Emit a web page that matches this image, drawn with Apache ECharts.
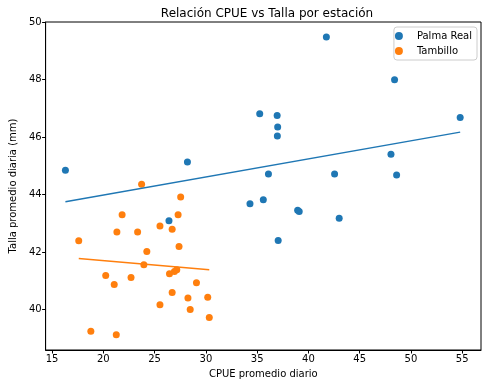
<!DOCTYPE html>
<html>
<head>
<meta charset="utf-8">
<script src="https://cdn.jsdelivr.net/npm/echarts@6/dist/echarts.min.js"></script>
<style>
html,body{margin:0;padding:0;background:#fff;}
#chart{width:488px;height:388px;}
</style>
</head>
<body>
<div id="chart"></div>
<script>
// Palma Real
const palmaX = [16.3, 28.2, 35.25, 41.75, 48.4, 36.95, 37.0, 36.97, 54.8, 48.05, 36.1, 42.55, 48.6, 35.6, 34.3, 38.95, 39.1, 43.0, 37.05, 26.4];
const palmaY = [44.85, 45.13, 46.81, 49.48, 47.99, 46.75, 46.35, 46.04, 46.68, 45.4, 44.72, 44.72, 44.68, 43.82, 43.68, 43.46, 43.41, 43.18, 42.41, 43.09];
// Tambillo
const tambX = [23.73, 27.54, 21.83, 27.29, 21.32, 23.34, 25.52, 26.71, 17.6, 27.38, 24.24, 23.95, 26.45, 26.93, 27.16, 20.23, 22.7, 21.06, 29.08, 26.71, 28.25, 30.18, 25.52, 28.47, 30.33, 18.78, 21.26];
const tambY = [44.36, 43.92, 43.3, 43.3, 42.7, 42.7, 42.91, 42.8, 42.4, 42.2, 42.02, 41.56, 41.25, 41.33, 41.39, 41.19, 41.12, 40.88, 40.94, 40.6, 40.41, 40.43, 40.17, 40.01, 39.73, 39.25, 39.13];

const seriesNames = ['Palma Real', 'Tambillo'];
const colors = ['#1f77b4', '#ff7f0e'];

function pairs(xs, ys) { return xs.map((x, i) => [x, ys[i]]); }
function fitLine(xs, ys) {
  const n = xs.length;
  const mx = xs.reduce((a, b) => a + b, 0) / n;
  const my = ys.reduce((a, b) => a + b, 0) / n;
  let sxy = 0, sxx = 0;
  for (let i = 0; i < n; i++) { sxy += (xs[i] - mx) * (ys[i] - my); sxx += (xs[i] - mx) ** 2; }
  const b = sxy / sxx, a = my - b * mx;
  const x0 = Math.min(...xs), x1 = Math.max(...xs);
  return [[x0, a + b * x0], [x1, a + b * x1]];
}

const font = 'DejaVu Sans';
const chart = echarts.init(document.getElementById('chart'), null, {renderer: 'canvas'});
chart.setOption({
  animation: false,
  title: {
    text: 'Relación CPUE vs Talla por estación',
    left: 262, top: 3, textAlign: 'center',
    textStyle: {fontFamily: font, fontSize: 12, fontWeight: 'normal', color: '#000'}
  },
  legend: {
    data: seriesNames,
    orient: 'vertical',
    right: 11, top: 27,
    icon: 'circle',
    itemWidth: 26, itemHeight: 8, itemGap: 5,
    padding: [4, 5, 4, 1],
    borderColor: '#cccccc', borderWidth: 1, borderRadius: 3,
    textStyle: {fontFamily: font, fontSize: 10, color: '#000'}
  },
  grid: {left: 41, right: 7, top: 22, bottom: 38, show: true, borderColor: '#000', borderWidth: 1, backgroundColor: 'transparent'},
  xAxis: {
    type: 'value', min: 14.37, max: 56.83, splitNumber: 8,
    name: 'CPUE promedio diario', nameLocation: 'middle', nameGap: 19,
    nameTextStyle: {fontFamily: font, fontSize: 10, color: '#000'},
    axisLine: {show: true, lineStyle: {color: '#000', width: 1}},
    axisTick: {show: true, length: 3.5, lineStyle: {color: '#000'}},
    axisLabel: {fontFamily: font, fontSize: 10, color: '#000', margin: 4, showMinLabel: false, showMaxLabel: false,
      formatter: v => (Math.abs(v / 5 - Math.round(v / 5)) < 1e-6 ? String(Math.round(v)) : '')},
    splitLine: {show: false}
  },
  yAxis: {
    type: 'value', min: 38.6, max: 50.0, splitNumber: 5,
    name: 'Talla promedio diaria (mm)', nameLocation: 'middle', nameGap: 24, nameRotate: 90,
    nameTextStyle: {fontFamily: font, fontSize: 10, color: '#000'},
    axisLine: {show: true, lineStyle: {color: '#000', width: 1}},
    axisTick: {show: true, length: 3.5, lineStyle: {color: '#000'}},
    axisLabel: {fontFamily: font, fontSize: 10, color: '#000', margin: 4, showMinLabel: false,
      formatter: v => (Math.abs(v / 2 - Math.round(v / 2)) < 1e-6 ? String(Math.round(v)) : '')},
    splitLine: {show: false}
  },
  series: [
    {name: seriesNames[0], type: 'scatter', data: pairs(palmaX, palmaY), symbolSize: 7,
     itemStyle: {color: colors[0], opacity: 1}, z: 3},
    {name: seriesNames[0] + ' ajuste', type: 'line', data: fitLine(palmaX, palmaY), showSymbol: false, symbol: 'none',
     lineStyle: {color: colors[0], width: 1.5}, z: 4},
    {name: seriesNames[1], type: 'scatter', data: pairs(tambX, tambY), symbolSize: 7,
     itemStyle: {color: colors[1], opacity: 1}, z: 3},
    {name: seriesNames[1] + ' ajuste', type: 'line', data: fitLine(tambX, tambY), showSymbol: false, symbol: 'none',
     lineStyle: {color: colors[1], width: 1.5}, z: 4}
  ]
});
</script>
</body>
</html>
